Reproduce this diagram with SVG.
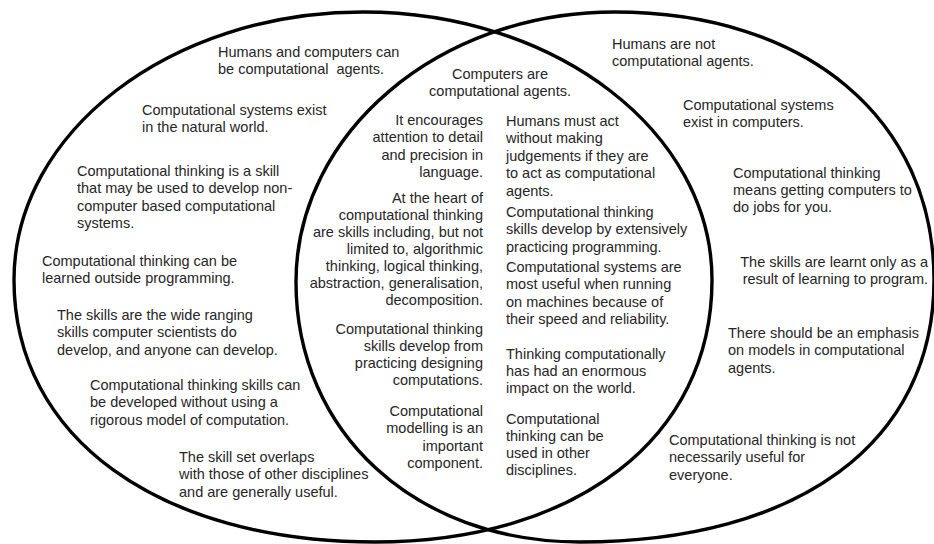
<svg xmlns="http://www.w3.org/2000/svg" width="934" height="544" viewBox="0 0 934 544">
<style>
.set{fill:none;stroke:#000;stroke-width:3.4}
text{font-family:"Liberation Sans",Arial,Helvetica,sans-serif;font-size:14.5px;fill:#262626}
.r{text-anchor:end}
.m{text-anchor:middle}
</style>
<rect width="934" height="544" fill="#fff"/>
<g id="sets">
<path id="set-left" class="set" d="M14,280 C14,132 170.2,12 363,12 C555.8,12 712,132 712,280 C712,437 577,542 375,542 C158.4,542 14,437 14,280 Z"/>
<path id="set-right" class="set" d="M296,282 C296,132.9 438.6,12 614.5,12 C806.2,12 934,119.2 934,280 C934,442.4 798.9,542 580,542 C415.3,542 296,432.8 296,282 Z"/>
</g>
<g id="connectors"/>
<g id="left-1"><text xml:space="preserve"><tspan x="218" y="57">Humans and computers can</tspan><tspan x="218" y="74.3">be computational  agents.</tspan></text></g>
<g id="left-2"><text><tspan x="142" y="115">Computational systems exist</tspan><tspan x="142" y="132.3">in the natural world.</tspan></text></g>
<g id="left-3"><text><tspan x="77" y="176">Computational thinking is a skill</tspan><tspan x="77" y="193.3">that may be used to develop non-</tspan><tspan x="77" y="210.6">computer based computational</tspan><tspan x="77" y="227.9">systems.</tspan></text></g>
<g id="left-4"><text><tspan x="42" y="266">Computational thinking can be</tspan><tspan x="42" y="283.3">learned outside programming.</tspan></text></g>
<g id="left-5"><text><tspan x="57" y="320">The skills are the wide ranging</tspan><tspan x="57" y="337.3">skills computer scientists do</tspan><tspan x="57" y="354.6">develop, and anyone can develop.</tspan></text></g>
<g id="left-6"><text><tspan x="90" y="390">Computational thinking skills can</tspan><tspan x="90" y="407.3">be developed without using a</tspan><tspan x="90" y="424.6">rigorous model of computation.</tspan></text></g>
<g id="left-7"><text><tspan x="179" y="462">The skill set overlaps</tspan><tspan x="179" y="479.3">with those of other disciplines</tspan><tspan x="179" y="496.6">and are generally useful.</tspan></text></g>
<g id="both-title"><text class="m"><tspan x="500" y="78.5">Computers are</tspan><tspan x="500" y="95.8">computational agents.</tspan></text></g>
<g id="both-l1"><text class="r"><tspan x="483" y="125">It encourages</tspan><tspan x="483" y="142.3">attention to detail</tspan><tspan x="483" y="159.6">and precision in</tspan><tspan x="483" y="176.9">language.</tspan></text></g>
<g id="both-l2"><text class="r"><tspan x="483" y="202.5">At the heart of</tspan><tspan x="483" y="219.5">computational thinking</tspan><tspan x="483" y="236.5">are skills including, but not</tspan><tspan x="483" y="253.5">limited to, algorithmic</tspan><tspan x="483" y="270.5">thinking, logical thinking,</tspan><tspan x="483" y="287.5">abstraction, generalisation,</tspan><tspan x="483" y="304.5">decomposition.</tspan></text></g>
<g id="both-l3"><text class="r"><tspan x="483" y="333.5">Computational thinking</tspan><tspan x="483" y="350.8">skills develop from</tspan><tspan x="483" y="368.1">practicing designing</tspan><tspan x="483" y="385.4">computations.</tspan></text></g>
<g id="both-l4"><text class="r"><tspan x="483" y="416">Computational</tspan><tspan x="483" y="433.3">modelling is an</tspan><tspan x="483" y="450.6">important</tspan><tspan x="483" y="467.9">component.</tspan></text></g>
<g id="both-r1"><text><tspan x="506" y="126">Humans must act</tspan><tspan x="506" y="143.3">without making</tspan><tspan x="506" y="160.6">judgements if they are</tspan><tspan x="506" y="177.9">to act as computational</tspan><tspan x="506" y="195.5">agents.</tspan></text></g>
<g id="both-r2"><text><tspan x="506" y="217">Computational thinking</tspan><tspan x="506" y="234.3">skills develop by extensively</tspan><tspan x="506" y="251.6">practicing programming.</tspan></text></g>
<g id="both-r3"><text><tspan x="506" y="272">Computational systems are</tspan><tspan x="506" y="289.3">most useful when running</tspan><tspan x="506" y="306.6">on machines because of</tspan><tspan x="506" y="323.9">their speed and reliability.</tspan></text></g>
<g id="both-r4"><text><tspan x="506" y="358.5">Thinking computationally</tspan><tspan x="506" y="375.8">has had an enormous</tspan><tspan x="506" y="393.1">impact on the world.</tspan></text></g>
<g id="both-r5"><text><tspan x="506" y="423.5">Computational</tspan><tspan x="506" y="440.8">thinking can be</tspan><tspan x="506" y="458.1">used in other</tspan><tspan x="506" y="475.4">disciplines.</tspan></text></g>
<g id="right-1"><text><tspan x="612" y="48.5">Humans are not</tspan><tspan x="612" y="65.8">computational agents.</tspan></text></g>
<g id="right-2"><text><tspan x="683" y="110">Computational systems</tspan><tspan x="683" y="127.3">exist in computers.</tspan></text></g>
<g id="right-3"><text><tspan x="733" y="177.5">Computational thinking</tspan><tspan x="733" y="194.8">means getting computers to</tspan><tspan x="733" y="212.1">do jobs for you.</tspan></text></g>
<g id="right-4"><text class="r"><tspan x="928" y="266.5">The skills are learnt only as a</tspan><tspan x="928" y="283.8">result of learning to program.</tspan></text></g>
<g id="right-5"><text><tspan x="728" y="338">There should be an emphasis</tspan><tspan x="728" y="355.3">on models in computational</tspan><tspan x="728" y="372.6">agents.</tspan></text></g>
<g id="right-6"><text><tspan x="669" y="445">Computational thinking is not</tspan><tspan x="669" y="462.3">necessarily useful for</tspan><tspan x="669" y="479.6">everyone.</tspan></text></g>
</svg>
